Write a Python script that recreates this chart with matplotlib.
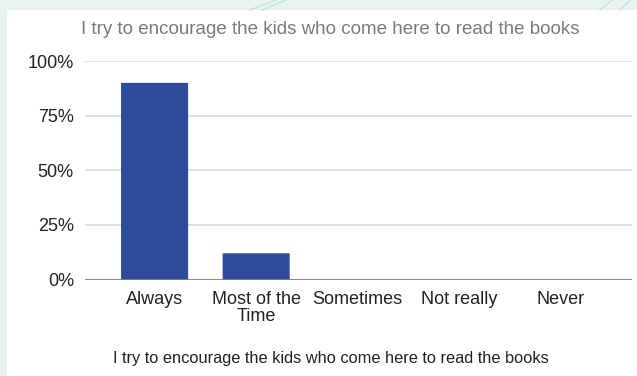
import matplotlib.pyplot as plt
from matplotlib.patches import Rectangle, FancyBboxPatch
from matplotlib.lines import Line2D
import numpy as np

plt.rcParams['font.family'] = ['Liberation Sans', 'DejaVu Sans']

# survey answers (share of respondents, %)
answers = ['Always', 'Most of the\nTime', 'Sometimes', 'Not really', 'Never']
share = [90, 12, 0, 0, 0]
yticks = [0, 25, 50, 75, 100]
ylabels = ['0%', '25%', '50%', '75%', '100%']
question = 'I try to encourage the kids who come here to read the books'

W, H = 637, 376
fig = plt.figure(figsize=(W / 100, H / 100), dpi=100, facecolor='#e9f3ee')

# white card behind the chart
fig.add_artist(Rectangle((7 / W, 0), 1, 1 - 10 / H, transform=fig.transFigure,
                         facecolor='white', edgecolor='none', zorder=0))
# faint strokes on the backdrop
for x0, x1 in [(276, 250), (286, 262), (612, 600), (630, 620)]:
    fig.add_artist(Line2D([x0 / W, x1 / W], [1, 1 - 10 / H], transform=fig.transFigure,
                          color='#c6e6da', lw=1.2, zorder=0))

ax = fig.add_axes([85 / W, 96.5 / H, 547 / W, 218.5 / H])
ax.set_facecolor('none')

x = np.arange(len(answers))
bw = 0.66
for xi, v in zip(x, share):
    if v <= 0:
        continue
    ax.add_patch(FancyBboxPatch((xi - bw / 2, 0), bw, v,
                                boxstyle='round,pad=0,rounding_size=0.03',
                                mutation_aspect=2.46,
                                facecolor='#2e4a9b', edgecolor='none', zorder=3))

ax.set_xlim(-0.685, 4.7)
ax.set_ylim(0, 100)
ax.set_yticks(yticks)
ax.set_yticklabels(ylabels)
ax.set_xticks(x)
ax.set_xticklabels(answers, linespacing=1.0)
ax.tick_params(axis='both', length=0, labelsize=13, colors='#222222')
ax.tick_params(axis='y', pad=8)
ax.tick_params(axis='x', pad=8)

for yv in yticks[1:]:
    ax.axhline(yv, color='#dcdcdc', lw=1.2, zorder=1)
ax.axhline(0, color='#7a7a7a', lw=2, zorder=4)
for s in ax.spines.values():
    s.set_visible(False)

fig.text(330 / W, 1 - 30 / H, question, ha='center', va='center',
         fontsize=13.5, color='#7a7a7a')
fig.text(331 / W, 1 - 358 / H, question, ha='center', va='center',
         fontsize=11.8, color='#222222')

fig.savefig('out.png', dpi=100, facecolor=fig.get_facecolor())
